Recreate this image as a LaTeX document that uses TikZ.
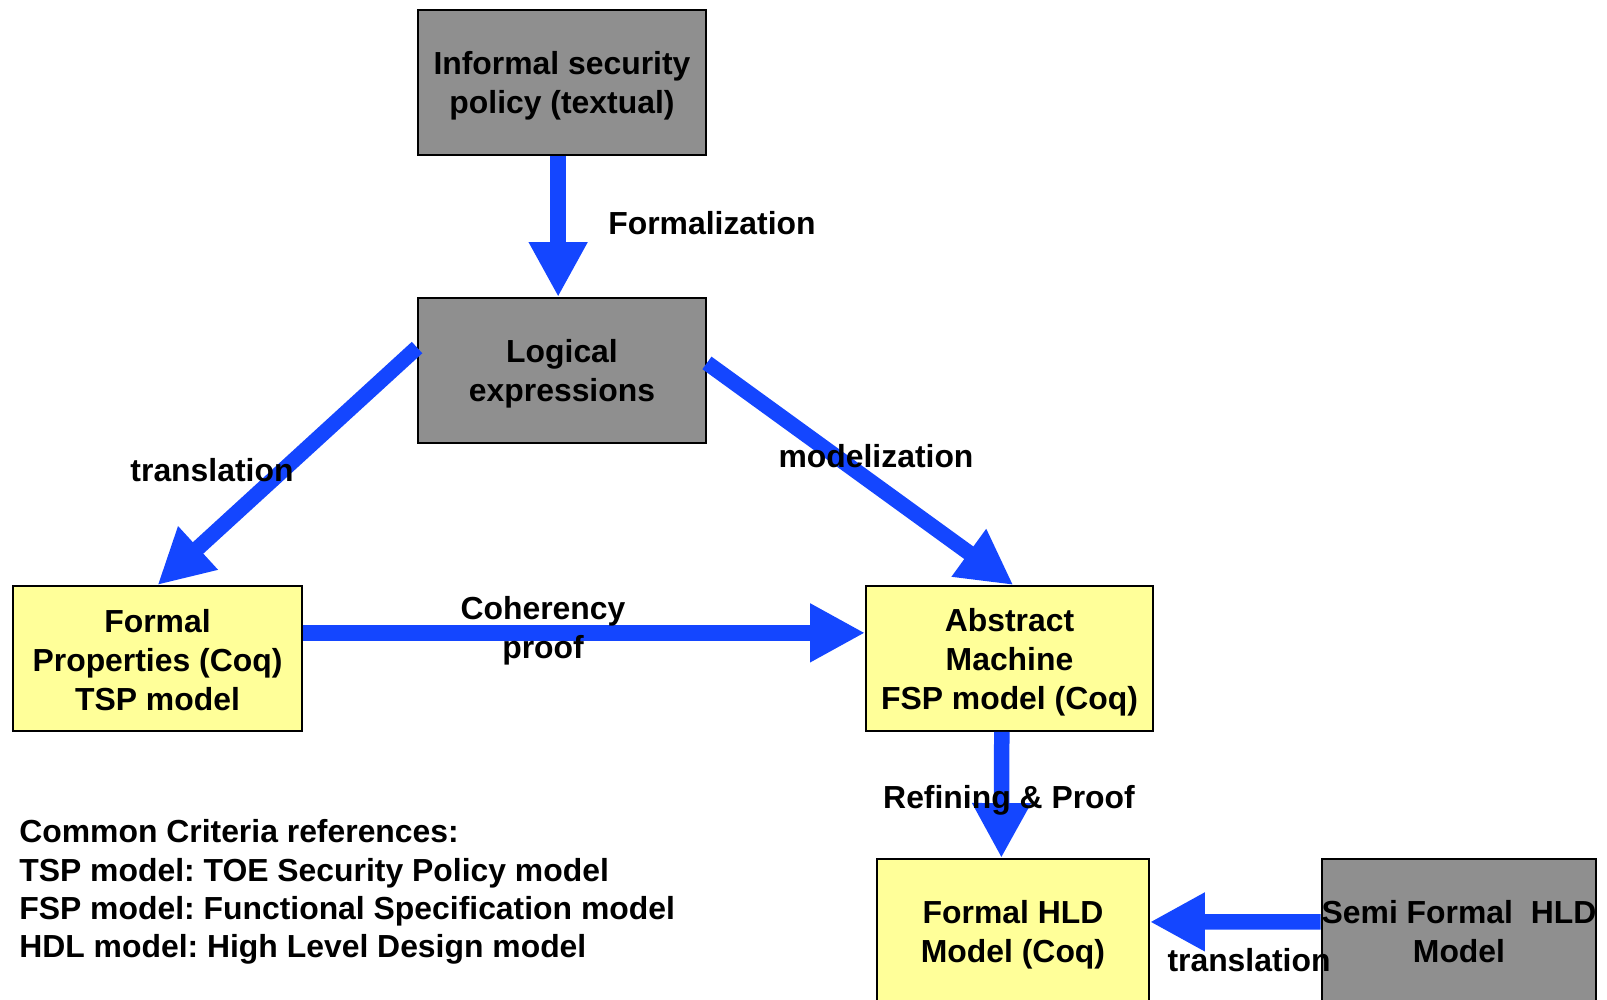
\documentclass[tikz,border=0pt]{standalone}
\usepackage{fontspec}
\setmainfont{Liberation Sans}
\usetikzlibrary{arrows.meta}
\definecolor{boxgray}{RGB}{143,143,143}
\definecolor{boxyellow}{RGB}{255,255,153}
\definecolor{arrowblue}{RGB}{20,70,255}
\newcommand{\firststrut}{\rule{0pt}{17pt}}
\frenchspacing

\begin{document}
\begin{tikzpicture}[x=0.02cm,y=-0.02cm,
    font=\fontsize{18.15}{22.2}\selectfont\bfseries,
    graybox/.style={draw,line width=1.1pt,fill=boxgray,minimum height=2.9cm,align=center,inner sep=0pt},
    yellowbox/.style={graybox,fill=boxyellow},
    bigarrow/.style={draw=arrowblue,line width=0.31cm,-{Triangle[width=1.1cm,length=1.1cm]}},
    lbl/.style={inner sep=0pt,align=center}]
    \useasboundingbox (0,0) rectangle (1607,1000);
    % boxes
    \node[graybox,minimum width=5.76cm] (inf) at (562,82.5) {\firststrut Informal security\\policy (textual)};
    \node[graybox,minimum width=5.76cm] (log) at (562,370.5) {\firststrut Logical\\expressions};
    \node[yellowbox,minimum width=5.78cm] (fp) at (157.5,658.5) {\rule{0pt}{15pt}Formal\\Properties (Coq)\\TSP model};
    \node[yellowbox,minimum width=5.74cm] (am) at (1009.5,658.5) {\firststrut Abstract\\Machine\\FSP model (Coq)};
    \node[yellowbox,minimum width=5.44cm] (hld) at (1013,931.5) {\firststrut Formal HLD\\Model (Coq)};
    \node[graybox,minimum width=5.44cm] (sf) at (1459,931.5) {Semi Formal\ \ HLD\\Model};
    % arrows
    \draw[bigarrow] (inf.267) -- (log.93);% formalization
    \draw[bigarrow] (log.171) -- (fp.north);% translation
    \draw[bigarrow] (log.3) -- (am.87);% modelization
    \draw[bigarrow] (fp.10) -- (fp.10 -| am.west);% coherency
    \draw[bigarrow] (am.264) -- (hld.99);% refining
    \draw[bigarrow] (sf.176) -- (hld.4);% translation
    % labels
    \node[lbl,anchor=west] (formlbl) at (608,223) {Formalization};
    \node[lbl] (translbl) at (212,470) {translation};
    \node[lbl] (modlbl) at (876,456) {modelization};
    \node[lbl] (cohlbl) at (543,631) {Coherency\\proof};
    \node[lbl] (reflbl) at (1009,800) {Refining \& Proof};
    \node[lbl] (trans2lbl) at (1249,960) {translation};
    \node[lbl,anchor=west,align=left,font=\fontsize{18.15}{21.8}\selectfont\bfseries] (cclbl) at (19,892)
      {Common Criteria references:\\TSP model: TOE Security Policy model\\FSP model: Functional Specification model\\HDL model: High Level Design model};
\end{tikzpicture}
\end{document}
